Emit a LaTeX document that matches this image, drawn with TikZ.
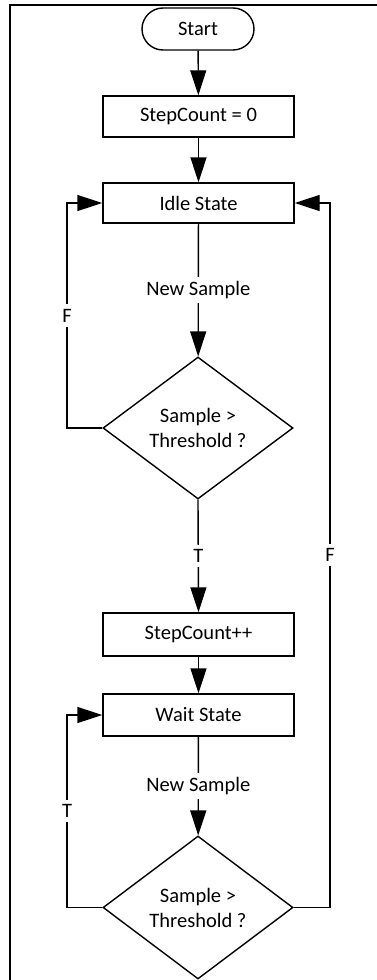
\documentclass[tikz,border=0pt]{standalone}
\usepackage{fontspec}
\setmainfont{Carlito}
\usetikzlibrary{arrows.meta,shapes.geometric}
\tikzset{
  base/.style={draw=black, line width=1.4pt, fill=white, inner sep=0pt, align=center,
    font=\fontsize{20.5}{25}\selectfont},
  term/.style={base, rectangle, rounded corners=21pt, minimum width=112pt, minimum height=42pt},
  procbox/.style={base, rectangle, minimum width=191pt, minimum height=42pt},
  decision/.style={base, diamond, minimum width=190pt, minimum height=142pt},
  conn/.style={draw=black, line width=1.4pt, -{Triangle[length=25pt,width=16pt]}},
  lbl/.style={fill=white, inner xsep=2pt, inner ysep=4.5pt, font=\fontsize{20.5}{25}\selectfont},
  frame/.style={draw=black, line width=2pt}
}
\begin{document}
\begin{tikzpicture}[x=1pt,y=-1pt]
\useasboundingbox (0,0) rectangle (377,980);
\fill[white] (0,0) rectangle (377,980);
% frame
\coordinate (ftr) at (377,5);
\coordinate (ftl) at (10,5);
\coordinate (fbl) at (10,980);
\draw[frame] (ftr) -- (ftl) -- (fbl);
% nodes
\node[term] (start) at (198,29) {Start};
\node[procbox, minimum height=41pt] (s0) at (198.5,116.5) {StepCount = 0};
\node[procbox, minimum height=40pt] (idle) at (198.5,203) {Idle State};
\node[decision] (dec1) at (198,428) {Sample >\\Threshold ?};
\node[procbox, minimum height=43pt] (sc) at (198.5,634.5) {StepCount++};
\node[procbox] (wait) at (198.5,715) {Wait State};
\node[decision, minimum height=143pt] (dec2) at (198,907.5) {Sample >\\Threshold ?};
% corner coordinates
\coordinate (l1b) at (67,428);
\coordinate (l1t) at (67,203);
\coordinate (l2b) at (67,907.5);
\coordinate (l2t) at (67,715);
\coordinate (r1b) at (330,907.5);
\coordinate (r1t) at (330,203);
% connectors
\draw[conn] (start) -- (s0);
\draw[conn] (s0) -- (idle);
\draw[conn] (idle) -- node[lbl] {New Sample} (dec1);
\draw[conn] (dec1.west) -- (l1b) -- node[lbl] {F} (l1t) -- (idle.west);
\draw[conn] (dec1.south) -- node[lbl] {T} (sc.north);
\draw[conn] (sc) -- (wait);
\draw[conn] (wait) -- node[lbl] {New Sample} (dec2);
\draw[conn] (dec2.west) -- (l2b) -- node[lbl] {T} (l2t) -- (wait.west);
\draw[conn] (dec2.east) -- (r1b) -- node[lbl] {F} (r1t) -- (idle.east);
\end{tikzpicture}
\end{document}
